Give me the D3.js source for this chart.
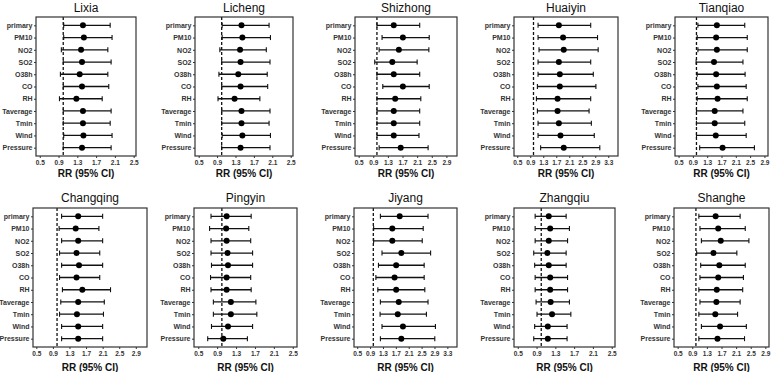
<!DOCTYPE html>
<html>
<head>
<meta charset="utf-8">
<script src="https://cdn.jsdelivr.net/npm/d3@7"></script>
<style>
  body { margin: 0; background: #fff; }
  svg { display: block; font-family: Arial, "Liberation Sans", sans-serif; }
</style>
</head>
<body>
<div id="chart"></div>
<script>

// Row labels (same in every panel)
var variables = [ 'primary', 'PM10', 'NO2', 'SO2', 'O38h', 'CO', 'RH', 'Taverage', 'Tmin', 'Wind', 'Pressure' ];

var districts = [ 'Lixia', 'Licheng', 'Shizhong', 'Huaiyin', 'Tianqiao',
                  'Changqing', 'Pingyin', 'Jiyang', 'Zhangqiu', 'Shanghe' ];

// [lower, RR, upper] per variable
var lixia     = [ [1.01,1.42,2.00], [1.01,1.44,2.04], [0.96,1.38,1.95], [1.00,1.40,2.02], [0.94,1.35,1.95], [1.00,1.40,1.97],
                  [0.92,1.28,1.83], [1.00,1.42,2.02], [1.00,1.42,2.00], [1.01,1.43,2.04], [1.00,1.40,2.02] ];
var licheng   = [ [1.01,1.43,2.03], [1.01,1.45,2.06], [0.96,1.40,1.97], [1.00,1.41,2.05], [0.94,1.36,1.99], [1.00,1.41,2.00],
                  [0.92,1.28,1.83], [1.00,1.43,2.05], [1.00,1.43,2.03], [1.01,1.45,2.06], [1.00,1.41,2.05] ];
var shizhong  = [ [1.00,1.46,2.17], [1.14,1.71,2.43], [1.06,1.60,2.42], [0.94,1.42,2.10], [1.00,1.46,2.17], [1.16,1.71,2.43],
                  [1.00,1.50,2.20], [1.00,1.46,2.17], [1.00,1.46,2.17], [1.00,1.46,2.15], [1.06,1.65,2.40] ];
var huaiyin   = [ [1.14,1.78,2.76], [1.14,1.91,2.97], [1.17,1.93,2.99], [1.14,1.78,2.76], [1.14,1.81,2.84], [1.12,1.81,2.92],
                  [1.09,1.74,2.76], [1.12,1.74,2.71], [1.14,1.78,2.78], [1.14,1.83,2.87], [1.22,1.93,3.04] ];
var tianqiao  = [ [1.04,1.57,2.35], [1.02,1.55,2.42], [1.04,1.57,2.42], [0.99,1.49,2.30], [1.02,1.55,2.36], [1.04,1.57,2.39],
                  [1.02,1.59,2.42], [1.00,1.51,2.30], [1.00,1.51,2.35], [1.00,1.54,2.39], [1.09,1.73,2.62] ];
var changqing = [ [1.11,1.51,2.10], [1.05,1.45,2.01], [1.11,1.51,2.10], [1.06,1.47,2.03], [1.11,1.53,2.10], [1.06,1.47,2.03],
                  [1.13,1.61,2.29], [1.09,1.51,2.14], [1.06,1.48,2.12], [1.11,1.51,2.10], [1.11,1.51,2.10] ];
var pingyin   = [ [0.77,1.10,1.62], [0.74,1.09,1.57], [0.77,1.10,1.61], [0.77,1.12,1.65], [0.78,1.13,1.65], [0.76,1.10,1.61],
                  [0.77,1.10,1.62], [0.82,1.19,1.72], [0.82,1.19,1.74], [0.78,1.13,1.65], [0.70,1.03,1.54] ];
var jiyang    = [ [1.22,1.82,2.70], [1.01,1.59,2.55], [1.01,1.59,2.52], [1.27,1.87,2.78], [1.16,1.71,2.58], [1.08,1.66,2.58],
                  [1.14,1.71,2.60], [1.22,1.79,2.70], [1.21,1.76,2.65], [1.27,1.92,2.93], [1.22,1.87,2.91] ];
var zhangqiu  = [ [0.87,1.16,1.53], [0.87,1.19,1.60], [0.87,1.16,1.56], [0.84,1.13,1.53], [0.86,1.16,1.53], [0.87,1.19,1.56],
                  [0.87,1.19,1.56], [0.89,1.20,1.60], [0.91,1.23,1.63], [0.86,1.14,1.55], [0.84,1.14,1.55] ];
var shanghe   = [ [1.08,1.54,2.21], [1.11,1.61,2.35], [1.15,1.68,2.45], [1.02,1.48,2.12], [1.13,1.64,2.35], [1.11,1.61,2.30],
                  [1.08,1.57,2.28], [1.11,1.56,2.21], [1.08,1.53,2.14], [1.15,1.66,2.38], [1.08,1.59,2.33] ];

var estimates = [ lixia, licheng, shizhong, huaiyin, tianqiao, changqing, pingyin, jiyang, zhangqiu, shanghe ];

// x tick values
var ticks25 = [ 0.5, 0.9, 1.3, 1.7, 2.1, 2.5 ];
var ticks29 = [ 0.5, 0.9, 1.3, 1.7, 2.1, 2.5, 2.9 ];
var ticks33 = [ 0.5, 0.9, 1.3, 1.7, 2.1, 2.5, 2.9, 3.3 ];
var panelTicks = [ ticks25, ticks25, ticks29, ticks33, ticks29, ticks29, ticks25, ticks33, ticks25, ticks29 ];

// x domain per panel
var panelDomains = [ [0.42, 2.55], [0.42, 2.55], [0.40, 3.19], [0.40, 3.60], [0.40, 3.00],
                     [0.42, 3.17], [0.41, 2.59], [0.40, 3.60], [0.42, 2.57], [0.40, 3.00] ];

// Layout: plot boxes (left, right) and row tops/bottoms
var boxX = [ [36, 136], [195, 293], [355, 457], [514, 618], [675, 768],
             [33, 147], [194, 297], [354, 457], [514, 615], [674, 769] ];
var rowY = [ {top: 17, bottom: 156, title: 12, tick: 166, label: 177},
             {top: 208, bottom: 347, title: 202, tick: 360, label: 371} ];

var svg = d3.select( '#chart' )
            .append( 'svg' )
            .attr( 'width', 777 )
            .attr( 'height', 372 );

districts.forEach( function ( name, i ) {

    var row = rowY[ Math.floor( i / 5 ) ];
    var x0 = boxX[i][0], x1 = boxX[i][1];
    var data = estimates[i];

    var x = d3.scaleLinear().domain( panelDomains[i] ).range( [x0, x1] );
    var y = d3.scalePoint().domain( variables ).range( [row.top, row.bottom] ).padding( 0.68 );

    var g = svg.append( 'g' ).attr( 'class', 'panel' );

    // Title
    g.append( 'text' )
        .attr( 'x', (x0 + x1) / 2 )
        .attr( 'y', row.title )
        .attr( 'text-anchor', 'middle' )
        .style( 'font-size', '12px' )
        .attr( 'fill', '#111' )
        .text( name );

    // Axes
    var xAxis = g.append( 'g' )
        .attr( 'transform', 'translate(0,' + row.bottom + ')' )
        .call( d3.axisBottom( x ).tickValues( panelTicks[i] ).tickFormat( d3.format( '.1f' ) ).tickSizeOuter( 0 ).tickSize( 2 ).tickPadding( 2 ) );

    xAxis.select( '.domain' ).remove();
    xAxis.selectAll( 'line' ).attr( 'stroke', '#333' );
    xAxis.selectAll( 'text' )
        .attr( 'fill', '#333' )
        .style( 'font-size', '6.5px' )
        .style( 'font-weight', 'bold' )
        .style( 'font-family', 'Arial, "Liberation Sans", sans-serif' );

    var yAxis = g.append( 'g' )
        .attr( 'transform', 'translate(' + x0 + ',0)' )
        .call( d3.axisLeft( y ).tickSizeOuter( 0 ).tickSize( 2 ).tickPadding( 1.5 ) );

    yAxis.select( '.domain' ).remove();
    yAxis.selectAll( 'line' ).attr( 'stroke', '#333' );
    yAxis.selectAll( 'text' )
        .attr( 'fill', '#333' )
        .style( 'font-size', '7px' )
        .style( 'font-weight', 'bold' )
        .style( 'font-family', 'Arial, "Liberation Sans", sans-serif' );

    // Axis label
    g.append( 'text' )
        .attr( 'x', (x0 + x1) / 2 )
        .attr( 'y', row.label )
        .attr( 'text-anchor', 'middle' )
        .style( 'font-size', '10px' )
        .style( 'font-weight', 'bold' )
        .attr( 'fill', '#111' )
        .text( 'RR (95% CI)' );

    // Reference line at RR = 1
    g.append( 'line' )
        .attr( 'x1', x( 1 ) )
        .attr( 'x2', x( 1 ) )
        .attr( 'y1', row.top )
        .attr( 'y2', row.bottom )
        .attr( 'stroke', '#111' )
        .attr( 'stroke-width', 1.3 )
        .attr( 'stroke-dasharray', '3,2' );

    // Error bars
    var bars = g.selectAll( '.ci' )
        .data( data ).enter()
        .append( 'g' )
        .attr( 'class', 'ci' );

    bars.append( 'line' )
        .attr( 'x1', function ( d ) { return x( d[0] ); } )
        .attr( 'x2', function ( d ) { return x( d[2] ); } )
        .attr( 'y1', function ( d, j ) { return y( variables[j] ); } )
        .attr( 'y2', function ( d, j ) { return y( variables[j] ); } )
        .attr( 'stroke', '#111' )
        .attr( 'stroke-width', 1.3 );

    [0, 2].forEach( function ( k ) {
        bars.append( 'line' )
            .attr( 'x1', function ( d ) { return x( d[k] ); } )
            .attr( 'x2', function ( d ) { return x( d[k] ); } )
            .attr( 'y1', function ( d, j ) { return y( variables[j] ) - 2.5; } )
            .attr( 'y2', function ( d, j ) { return y( variables[j] ) + 2.5; } )
            .attr( 'stroke', '#111' )
            .attr( 'stroke-width', 1.1 );
    });

    bars.append( 'circle' )
        .attr( 'cx', function ( d ) { return x( d[1] ); } )
        .attr( 'cy', function ( d, j ) { return y( variables[j] ); } )
        .attr( 'r', 3 )
        .attr( 'fill', '#000' );

    // Panel box
    g.append( 'rect' )
        .attr( 'x', x0 )
        .attr( 'y', row.top )
        .attr( 'width', x1 - x0 )
        .attr( 'height', row.bottom - row.top )
        .attr( 'fill', 'none' )
        .attr( 'stroke', '#333' )
        .attr( 'stroke-width', 1.2 );

});

</script>
</body>
</html>
